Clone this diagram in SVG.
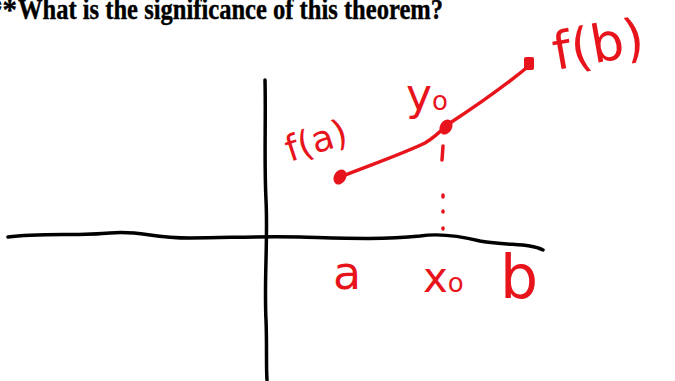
<svg xmlns="http://www.w3.org/2000/svg" width="675" height="381" viewBox="0 0 675 381">
<style>
.title{font-family:"Liberation Serif",serif;font-weight:bold;font-size:29px;fill:#000;stroke:#000;stroke-width:0.4}
.ink{fill:none;stroke-linecap:round;stroke-linejoin:round}
.axis{stroke:#000;stroke-width:3.5}
.red{stroke:#e8141c;stroke-width:3.5}
.hand{font-family:"DejaVu Sans",sans-serif;fill:#e8141c}
.dot{fill:#e8141c}
</style>
<rect width="675" height="381" fill="#fff"/>
<text class="title" x="-12" y="19">**</text>
<text class="title" x="18" y="19" textLength="425" lengthAdjust="spacingAndGlyphs">What is the significance of this theorem?</text>
<g id="axes">
<path class="ink axis" d="M265,80 C266,120 264,160 266,200 C268,240 264,280 266,320 C267,345 266,365 267,380"/>
<path class="ink axis" d="M8,237 C40,233 80,236 110,233 C140,230 150,238 190,238 C230,238 250,236 300,237 C340,238 380,240 420,236 C440,233 460,236 480,241 C510,246 530,243 543,250"/>
</g>
<g id="connectors">
<path class="ink red" d="M340,177 C370,165 400,155 425,143 C435,137 442,130 447,125 C470,110 500,90 530,65"/>
<path class="ink red" d="M443,146 L442,160" stroke-width="2"/>
<path class="ink red" d="M443,195 L443,197 M443,211 L443,212 M443,228 L443,229" stroke-width="1.5"/>
</g>
<g id="points">
<ellipse class="dot" cx="340" cy="177" rx="6" ry="8" transform="rotate(30 340 177)"/>
<ellipse class="dot" cx="446" cy="127" rx="6" ry="8" transform="rotate(30 446 127)"/>
<rect class="dot" x="524" y="57" width="10" height="13" rx="2"/>
</g>
<g id="labels">
<text class="hand" x="290" y="162" font-size="36" transform="rotate(-18 290 162)">f(a)</text>
<text class="hand" x="406" y="110" font-size="44">y<tspan font-size="26">o</tspan></text>
<text class="hand" x="556" y="70" font-size="52" transform="rotate(-10 556 70)">f(b)</text>
<text class="hand" x="333" y="289" font-size="46">a</text>
<text class="hand" x="423" y="292" font-size="42">x<tspan font-size="26">o</tspan></text>
<text class="hand" x="500" y="298" font-size="60">b</text>
</g>
</svg>
